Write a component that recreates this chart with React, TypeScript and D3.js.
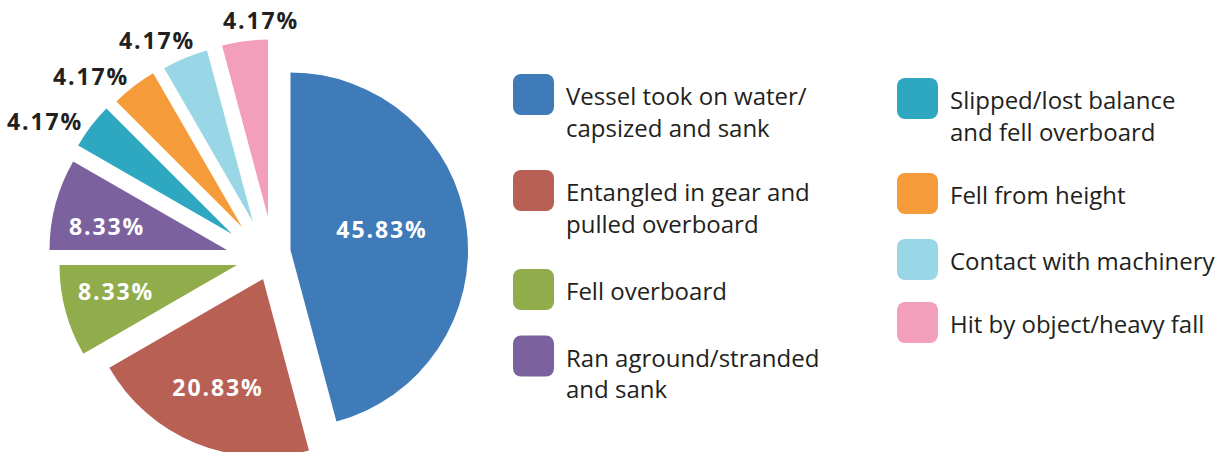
import React, { useRef, useEffect } from 'react';
import * as d3 from 'd3';

// Causes, in clockwise order from 12 o'clock
const categories = [
  'Vessel took on water/|capsized and sank',
  'Entangled in gear and|pulled overboard',
  'Fell overboard',
  'Ran aground/stranded|and sank',
  'Slipped/lost balance|and fell overboard',
  'Fell from height',
  'Contact with machinery',
  'Hit by object/heavy fall',
];
const shares = [45.83, 20.83, 8.33, 8.33, 4.17, 4.17, 4.17, 4.17];
const shareLabels = ['45.83%', '20.83%', '8.33%', '8.33%', '4.17%', '4.17%', '4.17%', '4.17%'];

const colors = ['#3f7bb9', '#b86054', '#90ac4b', '#7b619e', '#2ea8c1', '#f69b3a', '#9ad7e6', '#f39eba'];

// exploded slice tips, and label spots relative to them
const sliceOrigin: [number, number][] = [
  [290.5, 250], [263, 279], [237, 265], [227, 250],
  [232, 234], [242, 227], [253, 222], [268, 217],
];
const labelOffset: [number, number][] = [
  [90.5, -20], [-46, 109], [-122, 27], [-121, -23],
  [-188, -112], [-152, -150], [-97, -181], [-8, -196],
];
const insideLabel = [true, true, true, true, false, false, false, false];

// legend layout: column x, row centre y
const legendCols = [513, 897];
const legendRows = [
  [94.5, 190.5, 289.5, 356],
  [98.5, 193.5, 259.5, 322.5],
];

const width = 1224;
const height = 452;
const radius = 177.5;

const App: React.FC = () => {
  const svgRef = useRef<SVGSVGElement>(null);

  useEffect(() => {
    if (!svgRef.current) return;
    const svg = d3.select(svgRef.current);
    svg.selectAll('*').remove();

    const pie = d3.pie<number>().sort(null).value(d => d);
    const arcs = pie(shares);
    const arc = d3.arc<d3.PieArcDatum<number>>().innerRadius(0).outerRadius(radius);

    const slices = svg.selectAll('.slice')
      .data(arcs)
      .enter()
      .append('g')
      .attr('class', 'slice')
      .attr('transform', (d, i) => `translate(${sliceOrigin[i][0]},${sliceOrigin[i][1]})`);

    slices.append('path')
      .attr('d', d => arc(d) as string)
      .attr('fill', (d, i) => colors[i]);

    slices.append('text')
      .attr('x', (d, i) => labelOffset[i][0] + 1)
      .attr('y', (d, i) => labelOffset[i][1] + 8)
      .attr('text-anchor', 'middle')
      .style('font-family', '"Open Sans", sans-serif')
      .style('font-weight', 700)
      .style('font-size', '23px')
      .style('letter-spacing', '1.9px')
      .style('fill', (d, i) => (insideLabel[i] ? '#ffffff' : '#231f20'))
      .text((d, i) => shareLabels[i]);

    // Legend
    const legend = svg.append('g').attr('class', 'legend');
    categories.forEach((cat, i) => {
      const col = Math.floor(i / 4);
      const row = i % 4;
      const x = legendCols[col];
      const cy = legendRows[col][row];
      const g = legend.append('g').attr('transform', `translate(${x},${cy})`);
      g.append('rect')
        .attr('x', 0)
        .attr('y', -20.5)
        .attr('width', 41)
        .attr('height', 41)
        .attr('rx', 8)
        .attr('fill', colors[i]);
      const lines = cat.split('|');
      const t = g.append('text')
        .attr('x', 53)
        .attr('y', 10.5)
        .style('font-family', '"Open Sans", sans-serif')
        .style('font-size', '24px')
        .style('letter-spacing', '0px')
        .style('fill', '#231f20');
      lines.forEach((ln, j) => {
        t.append('tspan').attr('x', 53).attr('dy', j === 0 ? 0 : 31.5).text(ln);
      });
    });
  }, []);

  return (
    <svg
      ref={svgRef}
      width={width}
      height={height}
      style={{ position: 'absolute', left: 0, top: 0, background: '#ffffff' }}
    />
  );
};

export default App;
